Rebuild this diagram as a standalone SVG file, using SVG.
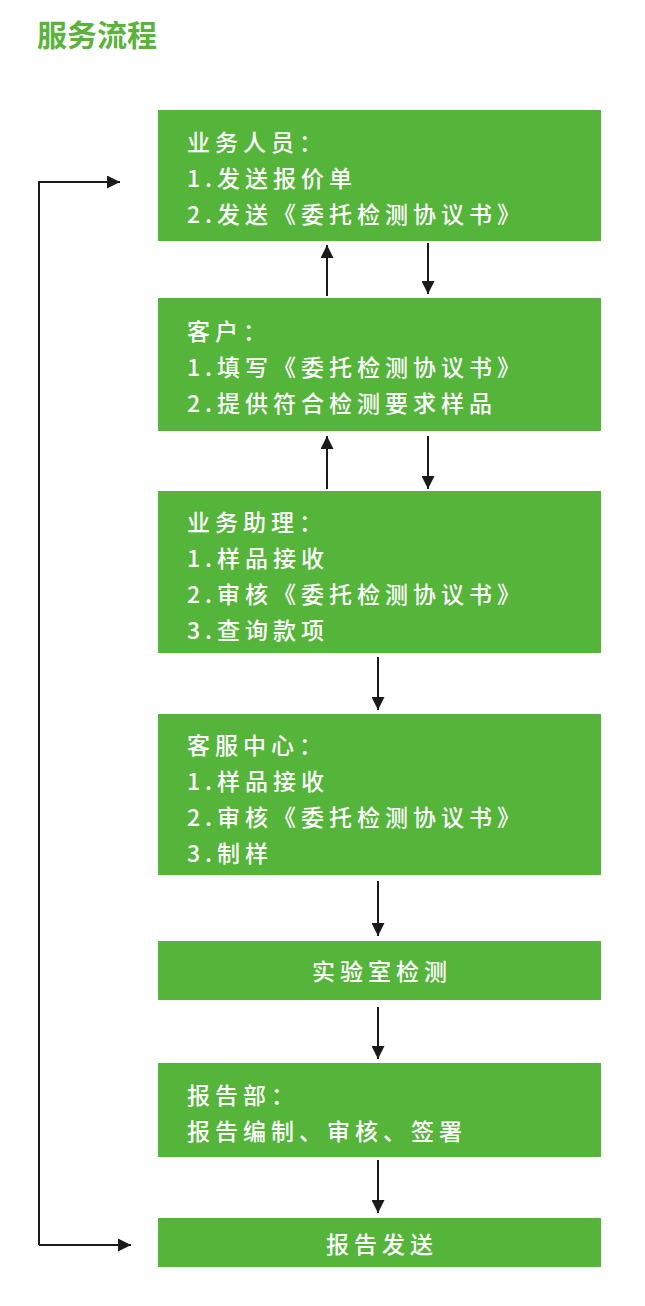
<svg xmlns="http://www.w3.org/2000/svg" width="645" height="1306" viewBox="0 0 645 1306">
<style>
.box{fill:#55b43a}
.t{font-family:"Noto Sans CJK SC","Liberation Sans",sans-serif;font-size:23px;fill:#fff;letter-spacing:5px;font-weight:500}
.c{text-anchor:middle}
.ln{stroke:#1a1a1a;stroke-width:2;fill:none}
</style>
<defs><marker id="b" viewBox="0 0 10 10" refX="10" refY="5" markerWidth="13" markerHeight="13" markerUnits="userSpaceOnUse" orient="auto"><path d="M0,0L10,5L0,10z" fill="#1a1a1a"/></marker></defs>
<text x="37" y="46" font-family="Noto Sans CJK SC,sans-serif" font-size="30" font-weight="bold" fill="#5ab43c">服务流程</text>
<g id="n1"><rect class="box" x="158" y="110" width="443" height="131"/><text class="t" x="187" y="151">业务人员：</text><text class="t" x="187" y="187">1.发送报价单</text><text class="t" x="187" y="223">2.发送《委托检测协议书》</text></g>
<g id="n2"><rect class="box" x="158" y="298" width="443" height="133"/><text class="t" x="187" y="340">客户：</text><text class="t" x="187" y="376">1.填写《委托检测协议书》</text><text class="t" x="187" y="412">2.提供符合检测要求样品</text></g>
<g id="n3"><rect class="box" x="158" y="491" width="443" height="162"/><text class="t" x="187" y="531">业务助理：</text><text class="t" x="187" y="567">1.样品接收</text><text class="t" x="187" y="603">2.审核《委托检测协议书》</text><text class="t" x="187" y="639">3.查询款项</text></g>
<g id="n4"><rect class="box" x="158" y="714" width="443" height="161"/><text class="t" x="187" y="754">客服中心：</text><text class="t" x="187" y="790">1.样品接收</text><text class="t" x="187" y="826">2.审核《委托检测协议书》</text><text class="t" x="187" y="862">3.制样</text></g>
<g id="n5"><rect class="box" x="158" y="941" width="443" height="59"/><text class="t c" x="382" y="980">实验室检测</text></g>
<g id="n6"><rect class="box" x="158" y="1063" width="443" height="94"/><text class="t" x="187" y="1104">报告部：</text><text class="t" x="187" y="1140">报告编制、审核、签署</text></g>
<g id="n7"><rect class="box" x="158" y="1218" width="443" height="49"/><text class="t c" x="382" y="1253">报告发送</text></g>
<g id="edges" class="ln">
<line x1="327" y1="296" x2="327" y2="245" marker-end="url(#b)"/>
<line x1="428" y1="243" x2="428" y2="294" marker-end="url(#b)"/>
<line x1="327" y1="489" x2="327" y2="436" marker-end="url(#b)"/>
<line x1="428" y1="436" x2="428" y2="489" marker-end="url(#b)"/>
<line x1="378" y1="657" x2="378" y2="710" marker-end="url(#b)"/>
<line x1="378" y1="881" x2="378" y2="936" marker-end="url(#b)"/>
<line x1="378" y1="1007" x2="378" y2="1059" marker-end="url(#b)"/>
<line x1="378" y1="1160" x2="378" y2="1213" marker-end="url(#b)"/>
<path d="M39,1245V182H120" marker-end="url(#b)"/>
<line x1="39" y1="1245" x2="131" y2="1245" marker-end="url(#b)"/>
</g>
</svg>
